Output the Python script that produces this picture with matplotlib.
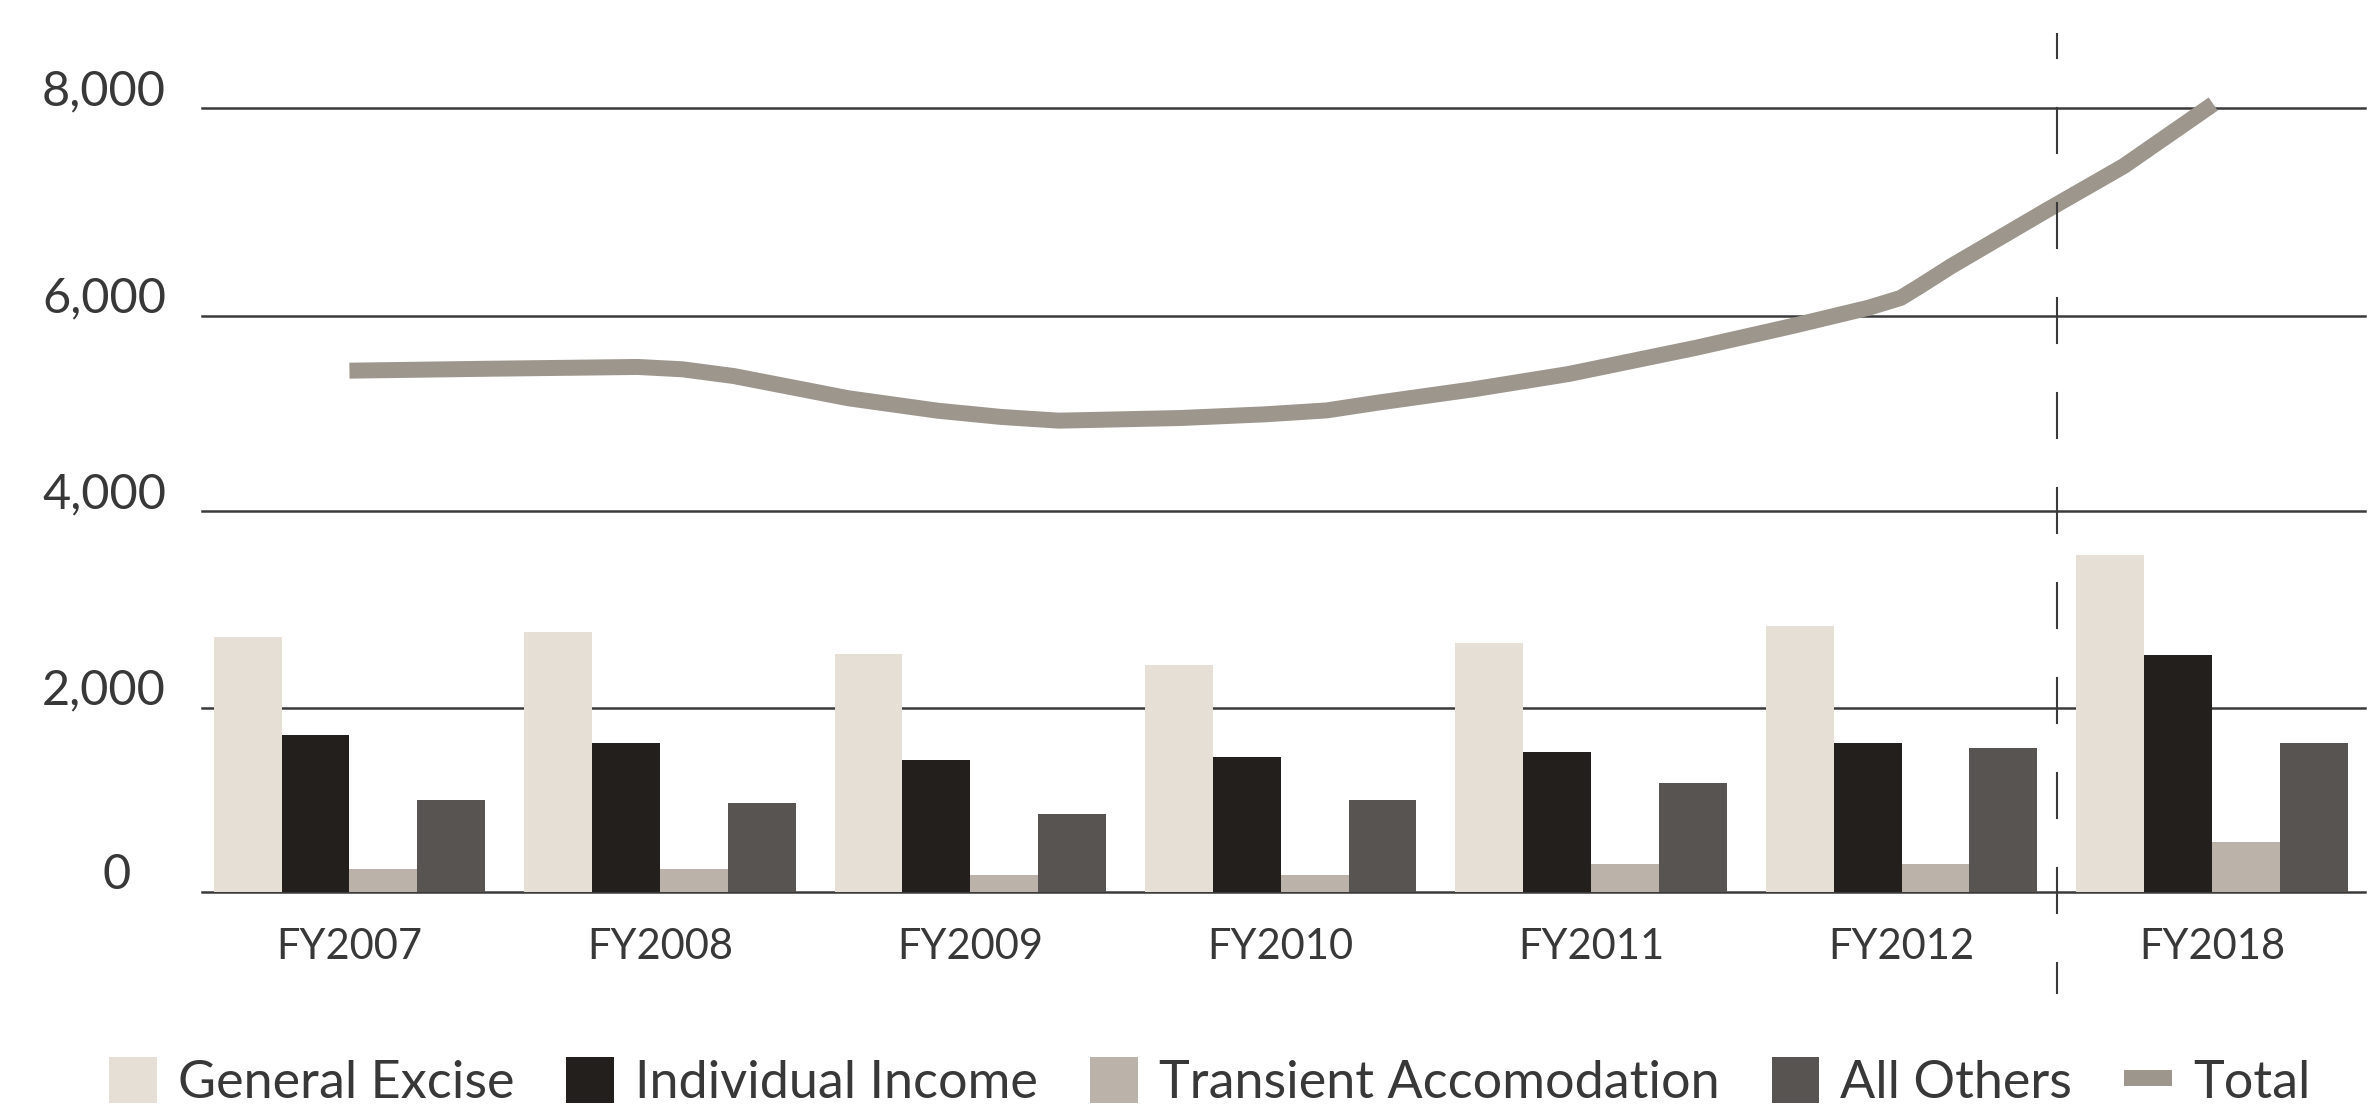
import numpy as np
import matplotlib
matplotlib.use("Agg")
import matplotlib.pyplot as plt
import matplotlib.transforms as mtransforms
from matplotlib.patches import Patch
from matplotlib.lines import Line2D

# ---------------- data ----------------
categories = ["FY2007", "FY2008", "FY2009", "FY2010", "FY2011", "FY2012", "FY2018"]
general_excise = [2716, 2767, 2543, 2431, 2658, 2831, 3553]
individual_income = [1703, 1620, 1435, 1465, 1522, 1618, 2538]
transient_accomodation = [247, 247, 181, 181, 301, 305, 545]
all_others = [997, 968, 848, 997, 1178, 1558, 1613]

# Total line, traced along its path (x in category units)
total_x = [0.0, 0.456, 0.929, 1.073, 1.238, 1.608, 1.895, 2.10, 2.285, 2.676,
           2.95, 3.148, 3.312, 3.620, 3.928, 4.339, 4.648, 4.894, 4.997,
           5.058, 5.161, 5.469, 5.716, 6.004]
total_values = [5437, 5457, 5475, 5451, 5382, 5154, 5027, 4963, 4925, 4952,
                4990, 5030, 5109, 5246, 5403, 5672, 5894, 6077, 6171,
                6283, 6479, 7019, 7443, 8041]

y_ticks = [0, 2000, 4000, 6000, 8000]
y_tick_labels = ["0", "2,000", "4,000", "6,000", "8,000"]
series_names = ["General Excise", "Individual Income", "Transient Accomodation",
                "All Others", "Total"]

# ---------------- style ----------------
colors = ["#E6DFD6", "#221F1D", "#BBB3A9", "#585451"]
total_color = "#9C968C"
grid_color = "#3A3A3A"
text_color = "#383838"
plt.rcParams["font.family"] = ["Lato", "DejaVu Sans"]

# The printed axis is not quite linear: piecewise-linear scale through the gridlines
_sv = np.array([0, 2000, 4000, 6000, 8000, 10000.0])
_sp = np.array([0, 184.0, 380.7, 576.0, 783.4, 990.8])


def fwd(v):
    return np.interp(v, _sv, _sp)


def inv(p):
    return np.interp(p, _sp, _sv)


W, H = 2372, 1118
fig = plt.figure(figsize=(W / 100, H / 100), dpi=100)
ax = fig.add_axes([202 / W, (H - 891.7) / H, (2365 - 202) / W, (891.7 - 33) / H])
ax.set_yscale("function", functions=(fwd, inv))
ax.set_ylim(0, 8726)
ax.set_xlim(-0.475, 6.493)
for s in ax.spines.values():
    s.set_visible(False)
ax.set_xticks([])
ax.set_yticks([])

# gridlines
for v in y_ticks:
    ax.axhline(v, color=grid_color, lw=1.8, zorder=0.5, clip_on=False)

# bars
x = np.arange(len(categories))
bw = 0.2185
series = [general_excise, individual_income, transient_accomodation, all_others]
for k, (vals, c) in enumerate(zip(series, colors)):
    ax.bar(x + (k - 1.5) * bw, vals, width=bw, color=c, linewidth=0, zorder=2)

# total line
ax.plot(total_x, total_values, color=total_color, lw=11.5,
        solid_capstyle="butt", solid_joinstyle="round", zorder=3)

# dashed separator between FY2012 and FY2018
ax.plot([5.5, 5.5], [1.0, -0.1191], transform=ax.get_xaxis_transform(),
        color=grid_color, lw=1.5, linestyle=(10.1, (22.6, 23.0)),
        clip_on=False, zorder=4)

# y labels (sit on their gridlines)
ytrans = ax.get_yaxis_transform() + mtransforms.ScaledTranslation(0, 0.03, fig.dpi_scale_trans)
for v, lab in zip(y_ticks, y_tick_labels):
    xr = -0.0328 if v == 0 else -0.01664
    ax.text(xr, v, lab, transform=ytrans, ha="right", va="baseline",
            fontsize=35, color=text_color)

# category labels
for i, cat in enumerate(categories):
    ax.text(i, -0.0784, cat, transform=ax.get_xaxis_transform(), ha="center",
            va="baseline", fontsize=30, color=text_color)

# legend
handles = [Patch(facecolor=c, edgecolor="none") for c in colors]
handles.append(Line2D([0], [0], color=total_color, lw=11.5, solid_capstyle="butt"))
leg = fig.legend(handles, series_names, loc="center left",
                 bbox_to_anchor=(109 / W, 36 / H), ncol=5, frameon=False,
                 fontsize=37.5, handlelength=0.92, handleheight=0.98,
                 handletextpad=0.4, columnspacing=1.0, borderpad=0,
                 borderaxespad=0)
for t in leg.get_texts():
    t.set_color(text_color)

fig.savefig("out.png", dpi=100, facecolor="white")
